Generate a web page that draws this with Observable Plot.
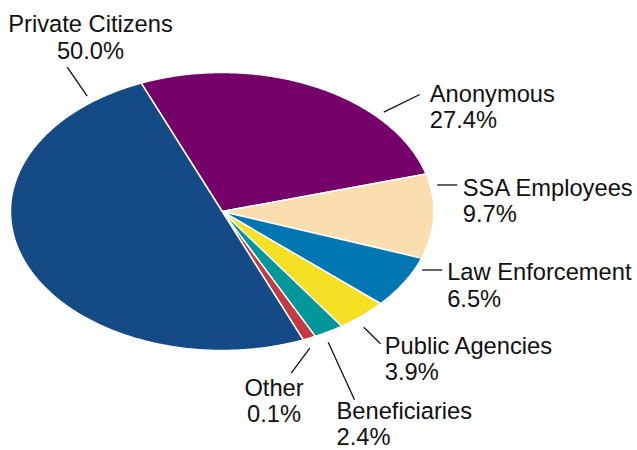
<!DOCTYPE html>
<html><head><meta charset="utf-8">
<script src="https://cdn.jsdelivr.net/npm/d3@7"></script>
<script src="https://cdn.jsdelivr.net/npm/@observablehq/plot@0.6"></script>
<style>html,body{margin:0;padding:0;background:#fff} #chart svg{display:block}</style>
</head><body><div id="chart"></div>
<script>
// ---- data (clockwise from the top-left boundary) ----
const categories = ["Anonymous", "SSA Employees", "Law Enforcement", "Public Agencies", "Beneficiaries", "Other", "Private Citizens"];
const percentLabels = ["27.4%", "9.7%", "6.5%", "3.9%", "2.4%", "0.1%", "50.0%"];
// slice sizes as drawn in the picture (percent of the pie)
const sliceShares = [26.9, 9.8, 6.1, 3.9, 2.3, 1.0, 50.0];
const colors = ["#75006a", "#fbdeb0", "#0076b2", "#f5e024", "#00979b", "#c33a40", "#144a85"];

// ---- layout (annotation placement, in the pie's unit-ellipse space) ----
const startAngle = -22.5; // degrees, clockwise from 12 o'clock
const leaderLayout = [
  {u1: 0.7633, v1: 0.7144, u2: 0.9334, v2: 0.8417},
  {u1: 1.0156, v1: 0.1906, u2: 1.1101, v2: 0.1906},
  {u1: 0.9447, v1: -0.4209, u2: 1.0392, v2: -0.4209},
  {u1: 0.6689, v1: -0.8324, u2: 0.7478, v2: -0.9518},
  {u1: 0.5007, v1: -0.9403, u2: 0.6249, v2: -1.3547},
  {u1: 0.4138, v1: -0.9835, u2: 0.3259, v2: -1.1633},
  {u1: -0.6377, v1: 0.8295, u2: -0.7322, v2: 1.0381}
];
const textLayout = [
  {u: 0.9806, v: 0.5993, anchor: "start"},
  {u: 1.1365, v: -0.0770, anchor: "start"},
  {u: 1.0628, v: -0.6835, anchor: "start"},
  {u: 0.7681, v: -1.2158, anchor: "start"},
  {u: 0.5399, v: -1.6820, anchor: "start"},
  {u: 0.2447, v: -1.5158, anchor: "middle"},
  {u: -0.6221, v: 1.0986, anchor: "middle"}
];

// ---- build slice outlines from the shares ----
const total = d3.sum(sliceShares);
const rad = Math.PI / 180;
const slicePts = [];
let acc = startAngle;
categories.forEach((c, i) => {
  const a0 = acc, a1 = acc + sliceShares[i] / total * 360;
  acc = a1;
  slicePts.push({c, u: 0, v: 0});
  const n = Math.max(4, Math.ceil((a1 - a0) / 0.5));
  for (let k = 0; k <= n; k++) {
    const a = (a0 + (a1 - a0) * k / n) * rad;
    slicePts.push({c, u: Math.sin(a), v: Math.cos(a)});
  }
  slicePts.push({c, u: 0, v: 0});
});

const leaders = categories.map((c, i) => ({c, ...leaderLayout[i]}));
const labels = categories.map((c, i) => ({c, text: c + "\n" + percentLabels[i], ...textLayout[i]}));

const font = "'Liberation Sans', Arial, Helvetica, sans-serif";
const fs = 23.7;

const chart = Plot.plot({
  width: 637,
  height: 450,
  margin: 0,
  style: {fontFamily: font, fontSize: fs + "px", background: "#fff"},
  x: {domain: [-1, 1], range: [10, 433.4], axis: null},
  y: {domain: [-1, 1], range: [350, 72], axis: null},
  color: {domain: categories, range: colors},
  marks: [
    Plot.line(slicePts, {x: "u", y: "v", z: "c", fill: "c", stroke: "white", strokeWidth: 1.5, strokeLinejoin: "round"}),
    Plot.link(leaders, {x1: "u1", y1: "v1", x2: "u2", y2: "v2", stroke: "#111", strokeWidth: 1.3}),
    Plot.text(labels.filter(d => d.anchor === "start"), {x: "u", y: "v", text: "text", textAnchor: "start", lineAnchor: "bottom", lineHeight: 1.12, fontSize: fs, fill: "#111"}),
    Plot.text(labels.filter(d => d.anchor === "middle"), {x: "u", y: "v", text: "text", textAnchor: "middle", lineAnchor: "bottom", lineHeight: 1.12, fontSize: fs, fill: "#111"})
  ]
});
document.getElementById("chart").appendChild(chart);
</script>
</body></html>
